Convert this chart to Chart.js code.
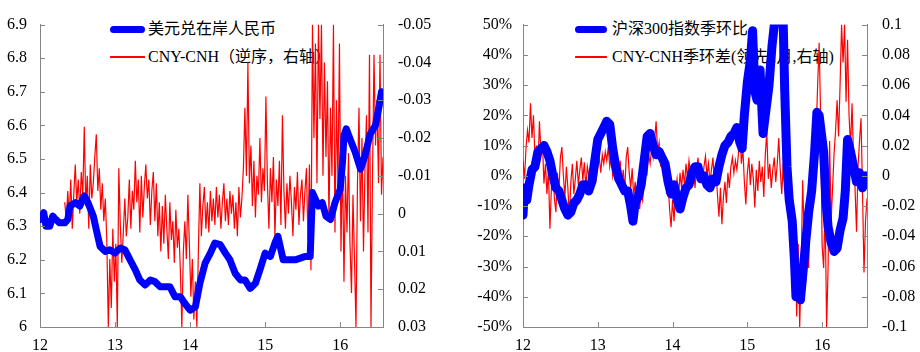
<!DOCTYPE html>
<html>
<head>
<meta charset="utf-8">
<script src="https://cdn.jsdelivr.net/npm/chart.js@4.4.1/dist/chart.umd.min.js"></script>
<style>
body { margin: 0; background: #fff; }
#wrap { position: relative; width: 920px; height: 352px; }
.panel { position: absolute; top: 0; width: 460px; height: 352px; }
.panel canvas { position: absolute; left: 0; top: 0; z-index: 1; }
.legend-row { position: absolute; z-index: 0; height: 20px; white-space: nowrap;
  font: 16px "Liberation Serif", "Noto Sans CJK SC", serif; color: #000; line-height: 20px; }
.legend-row .swatch { position: absolute; left: 0; }
.legend-row .label { position: absolute; top: 0; }
</style>
</head>
<body>
<div id="wrap">
  <div class="panel" id="panelLeft" style="left:0"><canvas id="fxChart" width="460" height="352"></canvas></div>
  <div class="panel" id="panelRight" style="left:460px"><canvas id="csiChart" width="460" height="352"></canvas></div>
</div>
<script>
// ---- left chart: USD/CNY onshore vs CNY-CNH spread ----
const usdYears = [12.0,12.03,12.05,12.08,12.13,12.17,12.21,12.26,12.33,12.37,12.4,12.47,12.53,12.59,12.64,12.71,12.76,12.8,12.87,12.93,
  13.0,13.07,13.13,13.2,13.27,13.33,13.4,13.47,13.53,13.6,13.67,13.73,13.8,13.87,13.93,
  14.0,14.07,14.13,14.2,14.27,14.33,14.4,14.47,14.53,14.6,14.67,14.73,14.8,14.87,14.93,
  15.0,15.07,15.13,15.17,15.21,15.24,15.33,15.4,15.47,15.53,15.6,15.61,15.63,15.71,15.76,15.81,15.87,15.93,
  16.0,16.03,16.05,16.08,16.13,16.2,16.27,16.33,16.4,16.47,16.52,16.55,16.57];
const usdCny = [6.32,6.33,6.34,6.30,6.30,6.33,6.32,6.31,6.31,6.32,6.36,6.37,6.36,6.39,6.37,6.33,6.28,6.24,6.225,6.23,
  6.22,6.235,6.23,6.2,6.17,6.14,6.125,6.14,6.135,6.12,6.12,6.12,6.09,6.09,6.07,
  6.05,6.06,6.13,6.19,6.22,6.25,6.245,6.22,6.2,6.16,6.14,6.14,6.115,6.13,6.17,
  6.22,6.21,6.25,6.27,6.23,6.2,6.2,6.2,6.205,6.21,6.21,6.21,6.40,6.36,6.37,6.33,6.32,6.37,
  6.41,6.49,6.57,6.59,6.56,6.52,6.47,6.51,6.575,6.6,6.66,6.70,6.68];

// CNY-CNH, roughly every week from mid 2012
const spreadStart = 12.33;
const spreadStep = 0.02;
const cnyCnh = [
  -0.003,0.002,-0.006,0.001,-0.009,0.004,-0.005,-0.013,-0.003,-0.009,
  0.000,-0.011,-0.005,-0.023,-0.002,-0.010,0.004,-0.013,-0.004,-0.008,
  -0.015,-0.021,-0.006,-0.012,-0.001,-0.008,0.002,-0.004,0.007,0.030,
  0.012,0.025,0.004,0.018,0.008,0.030,-0.012,0.003,0.013,0.005,
  -0.004,0.006,0.001,-0.009,0.004,-0.006,-0.001,-0.014,-0.003,-0.009,
  0.005,-0.010,0.001,-0.007,-0.013,-0.004,-0.009,0.003,-0.006,-0.011,
  0.002,-0.008,0.006,-0.003,0.010,-0.002,0.008,-0.005,0.004,0.012,
  -0.003,0.007,0.002,0.013,-0.001,0.009,0.004,0.015,0.030,0.010,
  0.002,0.012,-0.005,0.008,0.022,0.012,0.028,0.018,0.030,0.010,
  -0.008,0.006,-0.002,-0.007,0.004,-0.003,0.005,-0.006,0.002,-0.004,
  0.003,-0.007,0.001,-0.005,0.004,-0.003,-0.008,0.002,-0.004,0.003,
  -0.006,0.000,-0.005,0.004,-0.003,0.006,-0.007,0.001,-0.004,-0.012,
  -0.028,-0.010,-0.040,-0.008,-0.018,-0.002,-0.014,0.001,-0.010,-0.005,
  -0.020,-0.003,-0.012,-0.006,-0.031,-0.008,0.004,-0.012,-0.003,-0.015,
  0.006,-0.009,-0.002,-0.014,0.003,-0.026,-0.006,0.004,-0.008,0.000,
  -0.010,-0.003,0.006,-0.007,-0.001,-0.011,0.003,-0.005,-0.009,0.002,
  -0.006,-0.012,0.007,-0.013,0.015,-0.050,-0.020,-0.045,-0.008,-0.050,
  -0.025,-0.050,-0.010,-0.040,-0.015,-0.035,0.002,-0.028,-0.010,-0.050,
  0.005,-0.030,-0.008,-0.045,0.010,-0.015,0.018,-0.010,0.005,-0.016,
  0.008,0.021,-0.005,0.012,0.030,-0.008,-0.028,0.002,-0.020,0.010,
  -0.012,-0.026,0.005,-0.042,0.030,-0.010,-0.042,-0.018,-0.030,-0.008,
  -0.042,-0.005,-0.015];

// ---- right chart: CSI300 QoQ vs CNY-CNH QoQ diff ----
const csiYears = [12.0,12.02,12.05,12.08,12.12,12.16,12.2,12.24,12.28,12.32,
  12.36,12.4,12.44,12.48,12.52,12.56,12.6,12.64,12.68,12.72,
  12.76,12.8,12.84,12.88,12.92,12.96,13.0,13.04,13.08,13.12,
  13.16,13.2,13.24,13.28,13.32,13.36,13.4,13.44,13.47,13.5,
  13.54,13.58,13.62,13.66,13.7,13.74,13.78,13.82,13.86,13.9,
  13.94,13.98,14.02,14.06,14.1,14.14,14.18,14.22,14.26,14.3,
  14.34,14.38,14.42,14.46,14.5,14.54,14.58,14.62,14.66,14.7,
  14.74,14.78,14.82,14.86,14.9,14.93,14.96,15.0,15.04,15.07,
  15.1,15.13,15.17,15.21,15.25,15.29,15.33,15.37,15.41,15.45,
  15.48,15.5,15.53,15.56,15.6,15.63,15.65,15.68,15.71,15.74,
  15.78,15.82,15.86,15.9,15.93,15.96,15.99,16.02,16.05,16.08,
  16.12,16.16,16.2,16.24,16.28,16.31,16.34,16.38,16.42,16.46,
  16.5,16.54,16.58,16.6];
const csiQoq = [-13,-4,-8,-3,2,3,8,9,10,8,
  5,0,-4,-5,-8,-11,-13,-12,-9,-8,
  -6,-3,-3,-5,-2,5,12,14,16,18,
  17,9,3,-1,-3,-5,-5,-10,-15,-9,
  -7,-3,5,13,14,10,7,8,6,4,
  -2,-6,-3,-8,-11,-7,-4,-3,1,3,
  3,-1,0,-3,-4,-1,-2,3,7,10,
  11,13,14,16,11,9,20,31,38,48,
  28,25,35,14,22,30,43,52,58,55,
  50,28,3,-8,-15,-28,-40,-38,-41,-33,
  -22,-12,-5,8,21,20,14,8,-8,-17,
  -22,-25,-24,-18,-14,-5,12,8,3,-2,
  1,-4,0,-1];

const diffStart = 12.0;
const diffStep = 0.02;
const cnhQoqDiff = [
  0.010,-0.002,0.018,0.030,0.022,0.048,0.025,0.040,0.012,0.020,
  0.005,0.036,0.015,0.022,-0.005,0.008,-0.012,0.004,-0.035,-0.008,
  0.006,-0.015,-0.024,0.002,-0.010,0.012,0.019,0.000,-0.014,0.006,
  -0.008,-0.028,-0.004,0.008,-0.012,-0.002,0.010,-0.006,0.004,0.012,
  -0.003,0.009,-0.008,0.006,0.000,-0.010,0.004,-0.005,0.007,-0.002,
  0.005,0.012,0.002,0.014,0.008,0.016,0.010,0.019,0.006,0.012,
  0.000,0.008,-0.004,0.006,0.002,0.010,-0.006,0.004,-0.010,0.012,
  0.019,0.002,-0.008,0.005,-0.014,-0.004,-0.018,-0.006,-0.022,-0.010,
  -0.016,-0.004,0.006,0.002,0.014,0.008,0.018,0.012,0.024,0.036,
  0.016,0.022,0.006,0.014,-0.002,0.008,-0.012,-0.004,-0.022,-0.034,
  -0.016,-0.030,-0.010,-0.002,-0.014,0.002,-0.008,0.004,-0.006,0.008,
  -0.002,0.010,0.002,-0.004,0.006,-0.008,0.004,0.012,-0.002,0.008,
  -0.005,0.006,0.013,0.000,0.008,-0.004,0.004,0.012,-0.006,0.002,
  -0.012,-0.027,-0.008,-0.032,-0.014,-0.004,-0.018,0.002,-0.008,0.006,
  0.012,0.002,0.010,0.004,0.014,0.032,0.008,0.018,-0.004,-0.019,
  0.002,0.012,-0.006,0.008,-0.002,-0.021,0.004,-0.010,0.010,-0.004,
  0.006,-0.014,0.014,0.029,-0.002,0.008,-0.008,0.004,0.012,-0.004,
  0.008,0.025,0.004,-0.012,0.008,-0.006,0.010,-0.014,-0.004,-0.030,
  -0.018,-0.050,-0.030,-0.093,-0.045,-0.100,-0.060,-0.003,-0.040,-0.070,
  -0.025,-0.061,-0.010,0.015,-0.008,0.010,0.030,0.060,0.088,0.040,
  -0.046,-0.061,-0.020,-0.100,-0.060,0.023,-0.030,-0.008,0.015,0.030,
  0.050,0.026,0.060,0.100,0.075,0.100,0.049,0.090,0.040,0.019,
  0.048,0.012,-0.008,-0.037,0.006,0.023,0.038,-0.010,-0.064,-0.030,
  -0.015];

const xTicks = [12, 13, 14, 15, 16];
const BLUE = '#0000ff';
const RED = '#ff0000';
const AXIS = '#868686';
const tickFont = { family: '"Liberation Serif", "Times New Roman", serif', size: 16 };

function pairs(xs, ys) { return ys.map((v, i) => ({ x: xs[i], y: v })); }
function stepped(start, step, ys) { return ys.map((v, i) => ({ x: +(start + i * step).toFixed(3), y: v })); }

// small tick marks pointing into the plot
const innerTicks = {
  id: 'innerTicks',
  afterDraw(chart) {
    const ctx = chart.ctx, area = chart.chartArea;
    ctx.save();
    ctx.strokeStyle = AXIS;
    ctx.lineWidth = 1;
    Object.values(chart.scales).forEach(scale => {
      scale.ticks.forEach(t => {
        const p = Math.round(scale.getPixelForValue(t.value)) + 0.5;
        ctx.beginPath();
        if (scale.axis === 'x') { ctx.moveTo(p, area.bottom); ctx.lineTo(p, area.bottom - 5); }
        else if (scale.position === 'left') { ctx.moveTo(area.left, p); ctx.lineTo(area.left + 5, p); }
        else { ctx.moveTo(area.right, p); ctx.lineTo(area.right - 5, p); }
        ctx.stroke();
      });
    });
    ctx.restore();
  }
};

function xScale(max) {
  return {
    type: 'linear', min: 12, max: max,
    afterFit: s => { s.height = 25; },
    grid: { display: false, drawTicks: false },
    border: { display: true, color: AXIS },
    afterBuildTicks: s => { s.ticks = xTicks.map(v => ({ value: v })); },
    ticks: { color: '#000', font: tickFont, padding: 9, maxRotation: 0, callback: v => String(v) }
  };
}

function yScale(pos, width, pad, opts) {
  return Object.assign({
    type: 'linear', position: pos,
    afterFit: s => { s.width = width; },
    grid: { display: false, drawTicks: false },
    border: { display: true, color: AXIS }
  }, opts, { ticks: Object.assign({ color: '#000', font: tickFont, padding: pad, includeBounds: false }, opts.ticks) });
}

function makeChart(id, datasets, scales) {
  return new Chart(document.getElementById(id), {
    type: 'line',
    data: { datasets: datasets },
    options: {
      responsive: false,
      animation: false,
      layout: { padding: { top: 17, left: 0, right: 0, bottom: 0 } },
      plugins: { legend: { display: false }, tooltip: { enabled: false } },
      elements: { point: { radius: 0 }, line: { tension: 0 } },
      scales: scales
    },
    plugins: [innerTicks]
  });
}

function addLegend(panelId, items, swLeft, swWidth, textLeft) {
  const panel = document.getElementById(panelId);
  items.forEach((it, i) => {
    const row = document.createElement('div');
    row.className = 'legend-row';
    row.style.left = swLeft + 'px';
    row.style.top = (19 + i * 28) + 'px';
    const sw = document.createElement('span');
    sw.className = 'swatch';
    const h = Math.min(it.width, 7);
    sw.style.width = swWidth + 'px';
    sw.style.height = h + 'px';
    sw.style.top = (10 - h / 2) + 'px';
    sw.style.background = it.color;
    sw.style.borderRadius = (h / 2) + 'px';
    const tx = document.createElement('span');
    tx.className = 'label';
    tx.style.left = (textLeft - swLeft) + 'px';
    tx.textContent = it.label;
    row.appendChild(sw);
    row.appendChild(tx);
    panel.appendChild(row);
  });
}

const fxSets = [
  { label: '美元兑在岸人民币', data: pairs(usdYears, usdCny), borderColor: BLUE, borderWidth: 7,
    borderCapStyle: 'round', borderJoinStyle: 'round', yAxisID: 'y' },
  { label: 'CNY-CNH（逆序，右轴）', data: stepped(spreadStart, spreadStep, cnyCnh), borderColor: RED, borderWidth: 1.2, yAxisID: 'y1' }
];
makeChart('fxChart', fxSets, {
  x: xScale(16.57),
  y: yScale('left', 40, 13, { min: 6, max: 6.9, ticks: { stepSize: 0.1, callback: v => +v.toFixed(1) + '' } }),
  y1: yScale('right', 77, 15, { min: -0.05, max: 0.03, reverse: true,
    ticks: { stepSize: 0.01, callback: v => +v.toFixed(2) + '' } })
});
addLegend('panelLeft', fxSets.map(d => ({ label: d.label, color: d.borderColor, width: d.borderWidth })), 110, 35, 148);

const csiSets = [
  { label: '沪深300指数季环比', data: pairs(csiYears, csiQoq), borderColor: BLUE, borderWidth: 9,
    borderCapStyle: 'round', borderJoinStyle: 'round', yAxisID: 'y' },
  { label: 'CNY-CNH季环差(领先1月,右轴)', data: stepped(diffStart, diffStep, cnhQoqDiff), borderColor: RED, borderWidth: 1.2, yAxisID: 'y1' }
];
makeChart('csiChart', csiSets, {
  x: xScale(16.6),
  y: yScale('left', 63, 11, { min: -50, max: 50, ticks: { stepSize: 10, callback: v => Math.round(v) + '%' } }),
  y1: yScale('right', 53, 15, { min: -0.1, max: 0.1, ticks: { stepSize: 0.02, callback: v => +v.toFixed(2) + '' } })
});
addLegend('panelRight', csiSets.map(d => ({ label: d.label, color: d.borderColor, width: d.borderWidth })), 115, 32, 152);
</script>
</body>
</html>
